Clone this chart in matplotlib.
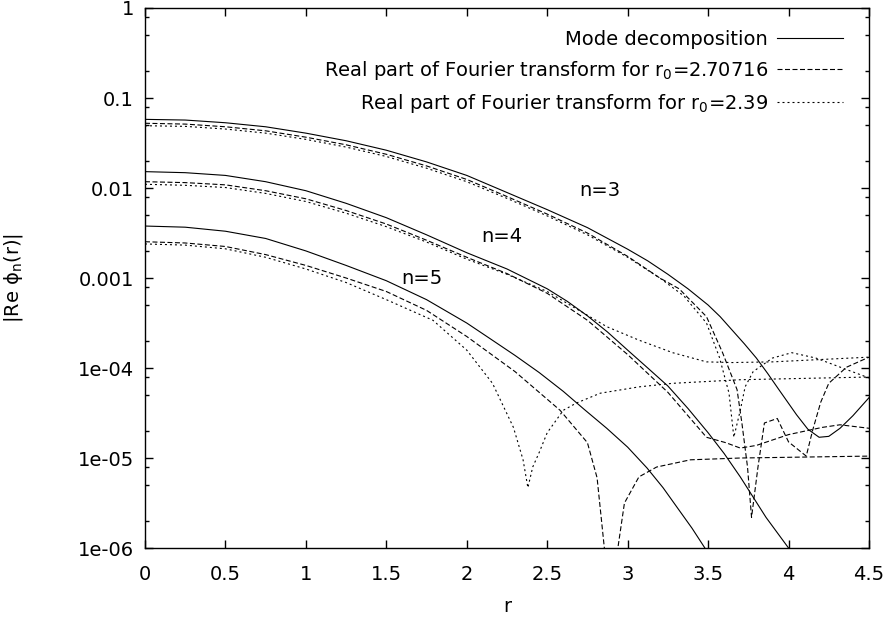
import matplotlib
matplotlib.use("Agg")
import matplotlib.pyplot as plt
from matplotlib.ticker import FixedLocator, NullFormatter

plt.rcParams['font.family'] = ['DejaVu Sans']
plt.rcParams['mathtext.fontset'] = 'dejavusans'

# mode decomposition (solid)
r_mode3 = [0, 0.25, 0.5, 0.75, 1.0, 1.25, 1.5, 1.75, 2.0, 2.25, 2.5, 2.75, 3.0, 3.125,
           3.25, 3.375, 3.5, 3.575, 3.65, 3.725, 3.8, 3.87, 3.94, 4.05, 4.12, 4.19,
           4.25, 4.32, 4.4, 4.5]
mode3 = [0.0579, 0.0569, 0.0531, 0.0479, 0.0407, 0.0335, 0.0263, 0.0195, 0.0138,
         0.00891, 0.00575, 0.00363, 0.00209, 0.00155, 0.00110, 7.59e-4, 5.01e-4,
         3.72e-4, 2.63e-4, 1.86e-4, 1.29e-4, 8.71e-5, 5.75e-5, 3.02e-5, 2.09e-5,
         1.70e-5, 1.74e-5, 2.14e-5, 2.95e-5, 4.68e-5]

r_mode4 = [0, 0.25, 0.5, 0.75, 1.0, 1.25, 1.5, 1.75, 2.0, 2.25, 2.5, 2.625, 2.75, 2.875,
           3.0, 3.125, 3.25, 3.375, 3.5, 3.6, 3.7, 3.86, 4.0, 4.05]
mode4 = [0.0152, 0.0148, 0.0138, 0.01175, 0.00933, 0.00676, 0.00468, 0.00302, 0.00191,
         0.00126, 7.59e-4, 5.5e-4, 3.8e-4, 2.51e-4, 1.58e-4, 1.0e-4, 6.31e-5, 3.55e-5,
         1.91e-5, 1.12e-5, 6.17e-6, 2.19e-6, 1.0e-6, 6.31e-7]

r_mode5 = [0, 0.25, 0.5, 0.75, 1.0, 1.25, 1.5, 1.75, 2.0, 2.15, 2.3, 2.45, 2.6, 2.73,
           2.87, 3.0, 3.12, 3.22, 3.32, 3.4, 3.48, 3.52]
mode5 = [0.00378, 0.00367, 0.00331, 0.00275, 0.002, 0.00138, 9.33e-4, 5.75e-4, 3.16e-4,
         2.09e-4, 1.38e-4, 8.91e-5, 5.5e-5, 3.47e-5, 2.14e-5, 1.32e-5, 7.76e-6, 4.68e-6,
         2.63e-6, 1.66e-6, 1.0e-6, 7.94e-7]

# Fourier transform, r0 = 2.70716 (dashed)
r_ftA3 = [0, 0.25, 0.5, 0.75, 1.0, 1.25, 1.5, 1.75, 2.0, 2.25, 2.5, 2.75, 3.0, 3.2, 3.32,
          3.49, 3.59, 3.68, 3.71, 3.745, 3.77, 3.81, 3.85, 3.93, 4.0, 4.11, 4.15, 4.2,
          4.25, 4.36, 4.5]
ftA3 = [0.0524, 0.0513, 0.0479, 0.0432, 0.0367, 0.0302, 0.0237, 0.0176, 0.01245, 0.00804,
        0.00513, 0.00316, 0.00174, 0.001, 7.59e-4, 3.72e-4, 1.48e-4, 5.75e-5, 2.45e-5,
        7.94e-6, 2.19e-6, 7.94e-6, 2.45e-5, 2.75e-5, 1.51e-5, 1.05e-5, 2.04e-5, 4.17e-5,
        6.76e-5, 1.02e-4, 1.32e-4]

r_ftA4 = [0, 0.25, 0.5, 0.75, 1.0, 1.25, 1.5, 1.75, 2.0, 2.25, 2.5, 2.75, 3.0, 3.25, 3.49,
          3.61, 3.7, 3.8, 4.0, 4.21, 4.32, 4.5]
ftA4 = [0.01175, 0.01148, 0.01084, 0.00933, 0.00759, 0.00562, 0.00398, 0.00263, 0.0017,
        0.00112, 6.76e-4, 3.39e-4, 1.41e-4, 5.37e-5, 1.70e-5, 1.48e-5, 1.29e-5, 1.38e-5,
        1.82e-5, 2.19e-5, 2.34e-5, 2.14e-5]

r_ftA5 = [0, 0.25, 0.5, 0.75, 1.0, 1.25, 1.5, 1.75, 2.0, 2.3, 2.58, 2.75, 2.81, 2.89,
          2.98, 3.07, 3.18, 3.39, 3.7, 4.5]
ftA5 = [0.00253, 0.00245, 0.00224, 0.00182, 0.00138, 0.001, 7.08e-4, 4.37e-4, 2.24e-4,
        9.12e-5, 3.39e-5, 1.48e-5, 6.03e-6, 2.5e-7, 3.16e-6, 6.17e-6, 7.94e-6, 9.55e-6,
        1.0e-5, 1.05e-5]

# Fourier transform, r0 = 2.39 (dotted)
r_ftB3 = [0, 0.25, 0.5, 0.75, 1.0, 1.25, 1.5, 1.75, 2.0, 2.25, 2.5, 2.75, 3.0, 3.2, 3.35,
          3.49, 3.57, 3.63, 3.66, 3.7, 3.73, 3.78, 3.9, 4.02, 4.17, 4.5]
ftB3 = [0.0492, 0.0484, 0.0452, 0.0407, 0.0347, 0.0285, 0.0224, 0.0166, 0.01175, 0.00767,
        0.0049, 0.00302, 0.0017, 0.001, 6.31e-4, 3.16e-4, 1.32e-4, 5.25e-5, 1.70e-5,
        3.39e-5, 6.17e-5, 9.12e-5, 1.29e-4, 1.48e-4, 1.29e-4, 7.76e-5]

r_ftB4 = [0, 0.25, 0.5, 0.75, 1.0, 1.25, 1.5, 1.75, 2.0, 2.25, 2.5, 2.66, 2.87, 3.07,
          3.28, 3.49, 3.65, 3.9, 4.5]
ftB4 = [0.011, 0.01072, 0.01012, 0.00871, 0.00708, 0.00525, 0.00372, 0.00251, 0.00162,
        0.0011, 7.08e-4, 4.79e-4, 2.88e-4, 2.04e-4, 1.48e-4, 1.17e-4, 1.15e-4, 1.17e-4,
        1.32e-4]

r_ftB5 = [0, 0.25, 0.5, 0.75, 1.0, 1.25, 1.5, 1.79, 2.0, 2.16, 2.29, 2.35, 2.38, 2.41,
          2.45, 2.5, 2.6, 2.68, 2.83, 3.07, 3.28, 3.7, 4.5]
ftB5 = [0.00239, 0.00232, 0.00211, 0.0017, 0.00126, 8.91e-4, 5.75e-4, 3.39e-4, 1.58e-4,
        6.76e-5, 2.19e-5, 9.55e-6, 4.68e-6, 7.94e-6, 1.15e-5, 1.91e-5, 3.39e-5, 4.07e-5,
        5.25e-5, 6.17e-5, 6.76e-5, 7.41e-5, 7.94e-5]

mode_labels = ['n=3', 'n=4', 'n=5']
label_r = [2.83, 2.22, 1.72]
label_v = [0.0095, 0.00286, 0.001]

fs = 14

fig = plt.figure(figsize=(8.91, 6.2), dpi=100)
ax = fig.add_axes([0.1627, 0.1161, 0.8126, 0.871])

lw = 0.8
dash = (4.5, 2.25)
dot = (1.8, 2.7)

ax.plot(r_mode3, mode3, color='black', lw=lw, label='Mode decomposition')
ax.plot(r_mode4, mode4, color='black', lw=lw)
ax.plot(r_mode5, mode5, color='black', lw=lw)

ax.plot(r_ftA3, ftA3, color='black', lw=lw, dashes=dash,
        label='Real part of Fourier transform for r$_0$=2.70716')
ax.plot(r_ftA4, ftA4, color='black', lw=lw, dashes=dash)
ax.plot(r_ftA5, ftA5, color='black', lw=lw, dashes=dash)

ax.plot(r_ftB3, ftB3, color='black', lw=lw, dashes=dot,
        label='Real part of Fourier transform for r$_0$=2.39')
ax.plot(r_ftB4, ftB4, color='black', lw=lw, dashes=dot)
ax.plot(r_ftB5, ftB5, color='black', lw=lw, dashes=dot)

for lab, x, y in zip(mode_labels, label_r, label_v):
    ax.text(x, y, lab, fontsize=fs, ha='center', va='center')

ax.set_yscale('log')
ax.set_xlim(0, 4.5)
ax.set_ylim(1e-6, 1)

ax.set_xticks([0, 0.5, 1, 1.5, 2, 2.5, 3, 3.5, 4, 4.5])
ax.set_xticklabels(['0', '0.5', '1', '1.5', '2', '2.5', '3', '3.5', '4', '4.5'])
ax.yaxis.set_major_locator(FixedLocator([1e-6, 1e-5, 1e-4, 1e-3, 1e-2, 1e-1, 1]))
ax.set_yticklabels(['1e-06', '1e-05', '1e-04', '0.001', '0.01', '0.1', '1'])
minor = []
for d in range(-6, 0):
    for m in (2, 5, 8):
        minor.append(m * 10.0 ** d)
ax.yaxis.set_minor_locator(FixedLocator(minor))
ax.yaxis.set_minor_formatter(NullFormatter())

ax.tick_params(which='both', direction='in', top=True, right=True, labelsize=fs)
ax.tick_params(which='major', length=6, width=1, pad=8)
ax.tick_params(axis='x', which='major', pad=12)
ax.tick_params(which='minor', length=3, width=1)
for s in ax.spines.values():
    s.set_linewidth(1.0)

ax.set_xlabel('r', fontsize=fs)
ax.xaxis.set_label_coords(0.5, -0.09)
ax.set_ylabel('|Re ϕ$_\\mathrm{n}$(r)|', fontsize=fs)
ax.yaxis.set_label_coords(-0.166, 0.5)

ax.legend(loc='upper right', bbox_to_anchor=(0.964, 0.959), frameon=False,
          markerfirst=False, fontsize=fs, handlelength=3.4, handletextpad=0.45,
          labelspacing=0.5, borderaxespad=0, borderpad=0)

fig.savefig('out.png', dpi=100)
